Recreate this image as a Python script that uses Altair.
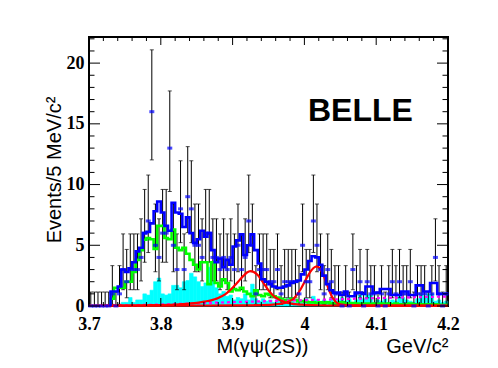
import altair as alt
import numpy as np
import pandas as pd

# ---------------- data ----------------
X0, X1, BINW = 3.70, 4.20, 0.005
YMAX = 22.15

counts = [0, 0, 0, 0, 0, 0, 1, 0, 1, 3,
          2, 3, 3, 3, 4, 6, 7, 16, 5, 4,
          6, 6, 13, 5, 3, 8, 3, 9, 8, 5,
          5, 4, 6, 6, 4, 4, 3, 4, 3, 4,
          3, 5, 3, 4, 7, 5, 1, 3, 3, 3,
          2, 2, 3, 1, 2, 2, 2, 2, 1, 5,
          2, 2, 7, 5, 3, 1, 3, 2, 1, 1,
          0, 1, 0, 3, 1, 2, 0, 2, 1, 1,
          0, 1, 0, 1, 2, 1, 2, 1, 1, 2,
          0, 1, 1, 1, 0, 1, 4, 1, 0, 1]

blue_fit = [0, 0, 0, 0, 0, 0, 1.2, 1.2, 1.6, 3.0,
            2.8, 3.1, 3.6, 4.5, 4.8, 6.0, 6.1, 6.8, 7.8, 8.6,
            7.7, 6.6, 6.2, 8.5, 7.7, 7.6, 6.5, 7.3, 6.0, 5.2,
            5.5, 6.2, 5.7, 6.0, 4.6, 3.6, 3.9, 3.2, 3.8, 3.4,
            4.9, 5.4, 5.9, 4.2, 5.0, 5.9, 4.6, 3.5, 2.2, 2.0,
            1.8, 1.6, 1.5, 1.5, 1.6, 1.7, 1.9, 2.0, 2.1, 2.6,
            3.0, 3.7, 4.1, 4.0, 3.4, 2.5, 1.8, 1.3, 1.1, 1.1,
            0.9, 1.2, 0.8, 0.8, 1.1, 1.1, 1.0, 1.6, 1.6, 1.1,
            1.1, 1.4, 1.4, 1.4, 0.9, 0.9, 0.9, 1.2, 1.2, 0.9,
            0.9, 1.7, 1.7, 1.2, 1.2, 1.9, 1.9, 1.0, 1.0, 1.0]

green_bkg = [0, 0, 0, 0, 0, 0, 0.6, 1.5, 1.5, 1.5,
             2.0, 2.0, 2.8, 3.8, 4.6, 5.45, 5.6, 5.5, 4.7, 6.6,
             6.6, 5.6, 5.5, 6.3, 4.8, 4.6, 4.8, 4.3, 3.8, 3.4,
             3.0, 3.6, 3.6, 1.8, 3.6, 1.9, 1.6, 2.2, 1.9, 1.2,
             1.4, 1.3, 1.5, 1.2, 1.0, 0.8, 1.3, 0.9, 0.8, 1.0,
             0.9, 0.8, 0.7, 0.6, 0.5, 0.5, 0.6, 0.5, 0.4, 0.4,
             0.35, 0.3, 0.3, 0.25, 0.3, 0.25, 0.3, 0.2, 0.25, 0.2,
             0.3, 0.2, 0.2, 0.25, 0.2, 0.2, 0.15, 0.2, 0.15, 0.2,
             0.15, 0.2, 0.15, 0.2, 0.15, 0.2, 0.15, 0.1, 0.15, 0.2,
             0.15, 0.1, 0.15, 0.1, 0.15, 0.1, 0.15, 0.1, 0.1, 0.1]

cyan_bkg = [0, 0, 0, 0, 0, 0, 0, 0, 0.15, 0.3,
            0.3, 0.7, 0.3, 0.5, 0.5, 1.0, 0.9, 1.3, 2.0, 2.3,
            1.0, 0.9, 1.0, 1.7, 1.7, 1.5, 2.0, 2.1, 2.7, 2.4,
            2.0, 1.6, 1.9, 3.2, 2.0, 1.5, 1.0, 1.2, 0.8, 0.9,
            0.5, 0.7, 0.6, 1.0, 0.5, 1.8, 0.6, 0.4, 0.6, 0.4,
            0.5, 0.3, 0.7, 0.5, 0.3, 0.6, 0.4, 0.3, 0.5, 0.3,
            0.6, 0.4, 0.8, 0.5, 0.3, 0.5, 0.4, 0.6, 0.3, 0.5,
            0.7, 0.4, 0.6, 0.3, 0.5, 0.9, 0.6, 0.9, 0.9, 0.3,
            0.5, 0.4, 0.6, 0.3, 0.5, 0.4, 0.8, 0.7, 0.5, 0.4,
            0.3, 0.6, 0.9, 0.8, 1.0, 1.0, 0.4, 0.5, 0.3, 0.4]

red1_x = [3.70, 3.75, 3.78, 3.80, 3.82, 3.84, 3.85, 3.86, 3.87, 3.875, 3.88,
          3.885, 3.89, 3.895, 3.90, 3.905, 3.91, 3.915, 3.92, 3.925, 3.93,
          3.935, 3.94, 3.945, 3.95, 3.955, 3.96, 3.965, 3.97, 3.98, 3.99,
          4.00, 4.02, 4.05, 4.10, 4.20]
red1_y = [0.02, 0.04, 0.06, 0.08, 0.12, 0.2, 0.26, 0.36, 0.46, 0.55, 0.66,
          0.8, 0.98, 1.22, 1.5, 1.82, 2.15, 2.48, 2.76, 2.87, 2.78,
          2.55, 2.15, 1.72, 1.3, 0.95, 0.7, 0.52, 0.38, 0.22, 0.13,
          0.1, 0.06, 0.04, 0.03, 0.02]

red2_x = [3.70, 3.80, 3.90, 3.94, 3.96, 3.97, 3.975, 3.98, 3.985, 3.99,
          3.995, 4.00, 4.005, 4.01, 4.015, 4.0175, 4.02, 4.025, 4.03, 4.035,
          4.04, 4.045, 4.05, 4.06, 4.10, 4.20]
red2_y = [0.02, 0.03, 0.05, 0.08, 0.14, 0.22, 0.3, 0.42, 0.6, 0.95,
          1.4, 1.95, 2.5, 2.95, 3.22, 3.27, 3.18, 2.75, 2.0, 1.2,
          0.6, 0.28, 0.14, 0.07, 0.04, 0.03]

mag_x = [3.70, 3.75, 3.80, 3.85, 3.90, 3.95, 4.00, 4.05, 4.10, 4.15, 4.20]
mag_y = [0.0, 0.05, 0.12, 0.22, 0.32, 0.4, 0.48, 0.56, 0.65, 0.72, 0.78]

x_labels = [3.7, 3.8, 3.9, 4.0, 4.1, 4.2]
y_labels = [0, 5, 10, 15, 20]
x_minor = [3.72, 3.74, 3.76, 3.78, 3.82, 3.84, 3.86, 3.88, 3.92, 3.94, 3.96, 3.98,
           4.02, 4.04, 4.06, 4.08, 4.12, 4.14, 4.16, 4.18]
y_minor = [1, 2, 3, 4, 6, 7, 8, 9, 11, 12, 13, 14, 16, 17, 18, 19, 21, 22]

# ---------------- tables ----------------
NB = len(counts)
assert NB == len(blue_fit) == len(green_bkg) == len(cyan_bkg) == 100
edges = np.round(X0 + BINW * np.arange(NB + 1), 4)
centers = edges[:-1] + BINW / 2

n = np.array(counts, dtype=float)
lo = np.where(n > 0, n - np.sqrt(np.clip(n - 0.25, 0, None)), 0.0)
hi = np.where(n > 0, n + 1 + np.sqrt(n + 0.75), 1.15)
pts = pd.DataFrame({"x": centers, "n": n, "lo": lo, "hi": hi})


def step_table(vals, start):
    rows = [{"x": edges[start], "y": 0.0, "o": 0}]
    o = 1
    for i in range(start, NB):
        rows.append({"x": edges[i], "y": vals[i], "o": o})
        rows.append({"x": edges[i + 1], "y": vals[i], "o": o + 1})
        o += 2
    return pd.DataFrame(rows)


blue_df = step_table(blue_fit, 6)
green_df = step_table(green_bkg, 6)
cyan_df = pd.DataFrame({"x0": edges[:-1], "x1": edges[1:], "c": cyan_bkg, "z": 0.0})
cyan_df = cyan_df[cyan_df.c > 0]
red1_df = pd.DataFrame({"x": red1_x, "y": red1_y})
red2_df = pd.DataFrame({"x": red2_x, "y": red2_y})
mag_df = pd.DataFrame({"x": mag_x, "y": mag_y})

W, H = 359, 269
xs = alt.Scale(domain=[X0, X1], nice=False, zero=False)
ys = alt.Scale(domain=[0, YMAX], nice=False, zero=True)
NB_SP = "\u00a0" * 14

x_axis = alt.Axis(values=x_labels, format=".1~f", ticks=False, domain=False, grid=False,
                  labelFont="Liberation Serif", labelFontWeight="bold", labelFontSize=18,
                  labelColor="black", labelPadding=9, labelFlush=False, labelOverlap=False,
                  title="M(γψ(2S))" + NB_SP + "GeV/c²", titleFont="Liberation Sans",
                  titleFontWeight="normal", titleFontSize=20, titleColor="black",
                  titleX=W, titleY=46, titleAlign="right", titleBaseline="alphabetic")
y_axis = alt.Axis(values=y_labels, ticks=False, domain=False, grid=False,
                  labelFont="Liberation Serif", labelFontWeight="bold", labelFontSize=18,
                  labelColor="black", labelPadding=5, labelOverlap=False,
                  title="Events/5 MeV/c²", titleFont="Liberation Sans",
                  titleFontWeight="normal", titleFontSize=20, titleColor="black",
                  titleX=-35, titleY=H / 2 - 2, titleAngle=270, titleAlign="center",
                  titleBaseline="middle")


def X(field):
    return alt.X(field, type="quantitative", scale=xs, axis=x_axis)


def Y(field):
    return alt.Y(field, type="quantitative", scale=ys, axis=y_axis)


cyan = alt.Chart(cyan_df).mark_rect(color="#00ffff", stroke="#00ffff", strokeWidth=0.6).encode(
    x=X("x0"), x2="x1", y=Y("c"), y2="z")

err = alt.Chart(pts).mark_rule(color="black", strokeWidth=1).encode(
    x=X("x"), y=Y("lo"), y2="hi")
cap_hi = alt.Chart(pts).mark_tick(orient="horizontal", color="black", size=4, thickness=1).encode(
    x=X("x"), y=Y("hi"))
cap_lo = alt.Chart(pts[pts.n > 0]).mark_tick(orient="horizontal", color="black", size=4, thickness=1).encode(
    x=X("x"), y=Y("lo"))


def step_line(df, color):
    return alt.Chart(df).mark_line(color=color, strokeWidth=2.6, strokeJoin="miter").encode(
        x=X("x"), y=Y("y"), order=alt.Order("o:Q"))


green = step_line(green_df, "#00ff00")
blue = step_line(blue_df, "#0000ff")

mag = alt.Chart(mag_df).mark_line(color="#ff00ff", strokeWidth=2.2, strokeDash=[3, 3]).encode(
    x=X("x"), y=Y("y"))
red1 = alt.Chart(red1_df).mark_line(color="#ff0000", strokeWidth=2.2, interpolate="monotone").encode(
    x=X("x"), y=Y("y"))
red2 = alt.Chart(red2_df).mark_line(color="#ff0000", strokeWidth=2.2, interpolate="monotone").encode(
    x=X("x"), y=Y("y"))

markers = alt.Chart(pts).mark_tick(orient="horizontal", color="#0000ff", size=5, thickness=3).encode(
    x=X("x"), y=Y("n"))

# inside ticks (ROOT style)
ymaj = pd.DataFrame({"v": y_labels})
ymin = pd.DataFrame({"v": y_minor})
xmaj = pd.DataFrame({"v": x_labels})
xmin = pd.DataFrame({"v": x_minor})


def ytick(df, x_a, x_b):
    return alt.Chart(df).mark_rule(color="black", strokeWidth=1).encode(
        y=Y("v"), x=alt.value(x_a), x2=alt.value(x_b))


def xtick(df, y_a, y_b):
    return alt.Chart(df).mark_rule(color="black", strokeWidth=1).encode(
        x=X("v"), y=alt.value(y_a), y2=alt.value(y_b))


ticks = [ytick(ymaj, 0, 11), ytick(ymin, 0, 5.5), ytick(ymaj, W, W - 11), ytick(ymin, W, W - 5.5),
         xtick(xmaj, H, H - 8), xtick(xmin, H, H - 4), xtick(xmaj, 0, 8), xtick(xmin, 0, 4)]

label_df = pd.DataFrame({"x": [4.078], "y": [16.05], "t": ["BELLE"]})
belle = alt.Chart(label_df).mark_text(font="Liberation Sans", fontWeight="bold", fontSize=32,
                                      color="black", baseline="middle", align="center").encode(
    x=X("x"), y=Y("y"), text="t:N")

chart = alt.layer(cyan, err, cap_hi, cap_lo, green, mag, red1, red2, blue, markers, *ticks, belle).properties(
    width=W, height=H,
    padding={"left": 81, "top": 29, "right": 42, "bottom": 54},
    autosize=alt.AutoSizeParams(type="none"),
    background="white",
).configure_view(stroke="black", strokeWidth=2)

chart.save("out.html", embed_options={"renderer": "svg", "actions": False})
